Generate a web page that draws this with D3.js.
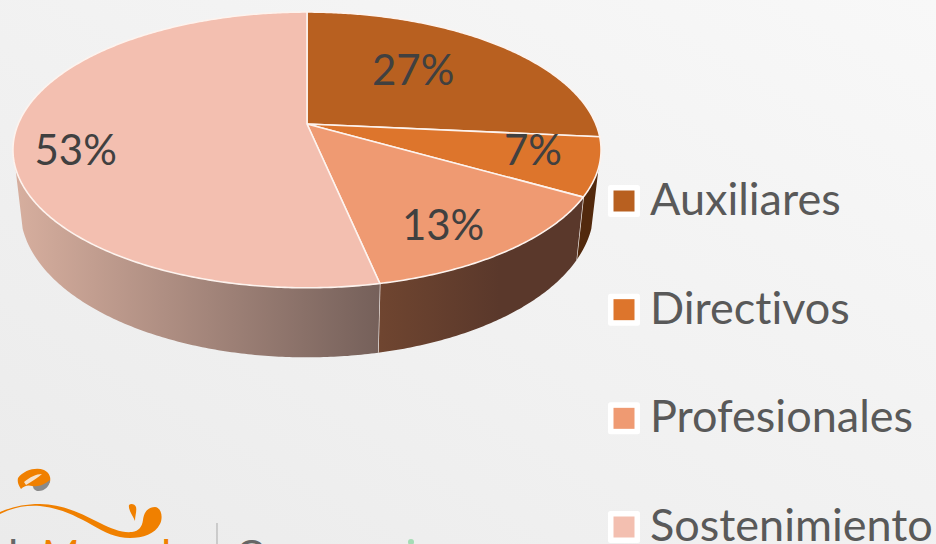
<!DOCTYPE html>
<html>
<head>
<meta charset="utf-8">
<script src="https://cdn.jsdelivr.net/npm/d3@7"></script>
<style>
  html, body { margin: 0; padding: 0; overflow: hidden; }
  svg { display: block; }
  text { font-family: Lato, "Open Sans", sans-serif; font-variant-ligatures: none; }
</style>
</head>
<body>
<div id="chart"></div>
<script>
const categories = ["Auxiliares", "Directivos", "Profesionales", "Sostenimiento"];
const values = [26.5, 6.8, 13.4, 53.3];
const colors = ["#b86020", "#dd752c", "#ef9a72", "#f3bfb0"];

const width = 936,
  height = 544;

// perspective disc: far side shrinks, so the apex sits above the ellipse centre
const persp = 0.188;
const topRim = { cx: 307, cy: 124, a: 288.8, b: 133 };
const lowRim = { cx: 307, cy: 182, a: 281.6, b: 142.4 };
// rim angles where the side wall turns out of sight
const wallStart = (108 * Math.PI) / 180;
const wallEnd = (252 * Math.PI) / 180;

function project(rim, angle, r = 1) {
  const u = r * Math.sin(angle);
  const v = r * Math.cos(angle);
  const w = 1 + persp * v;
  return [rim.cx + (rim.a * u) / w, rim.cy - (rim.b * v) / w];
}

function arcPoints(rim, a0, a1) {
  const n = Math.max(2, Math.ceil(Math.abs(a1 - a0) / 0.01));
  return d3.range(n + 1).map((i) => project(rim, a0 + ((a1 - a0) * i) / n));
}

const line = d3.line();
const pie = d3.pie().sort(null).value((d) => d);
const slices = pie(values);
const fmt = (v) => Math.round(v) + "%";

const svg = d3
  .select("#chart")
  .append("svg")
  .attr("width", width)
  .attr("height", height);
const defs = svg.append("defs");

const bg = defs
  .append("linearGradient")
  .attr("id", "bg")
  .attr("x1", 0)
  .attr("y1", 1)
  .attr("x2", 1)
  .attr("y2", 0);
bg.append("stop").attr("offset", 0).attr("stop-color", "#ebebeb");
bg.append("stop").attr("offset", 1).attr("stop-color", "#f8f8f8");
svg
  .append("rect")
  .attr("width", width)
  .attr("height", height)
  .attr("fill", "url(#bg)");

// side wall shading, left to right per slice
const wallStops = [null, ["#52290d", "#52290d"], ["#6f4530", "#5a382b"], ["#d6ae9e", "#75605a"]];
const wallX = [null, [577, 600], [380, 500], [18, 380]];
wallStops.forEach((stops, i) => {
  if (!stops) return;
  const g = defs
    .append("linearGradient")
    .attr("id", "wall" + i)
    .attr("gradientUnits", "userSpaceOnUse")
    .attr("x1", wallX[i][0])
    .attr("x2", wallX[i][1])
    .attr("y1", 0)
    .attr("y2", 0);
  g.append("stop").attr("offset", 0).attr("stop-color", stops[0]);
  g.append("stop").attr("offset", 1).attr("stop-color", stops[1]);
});

// walls
slices.forEach((s, i) => {
  const a0 = Math.max(s.startAngle, wallStart);
  const a1 = Math.min(s.endAngle, wallEnd);
  if (a1 <= a0) return;
  const pts = arcPoints(topRim, a0, a1).concat(arcPoints(lowRim, a1, a0));
  svg
    .append("path")
    .attr("d", line(pts) + "Z")
    .attr("fill", `url(#wall${i})`)
    .attr("stroke", "none");
  // white seam where two slices meet on the wall
  if (s.endAngle < wallEnd) {
    svg
      .append("line")
      .attr("x1", project(topRim, s.endAngle)[0])
      .attr("y1", project(topRim, s.endAngle)[1])
      .attr("x2", project(lowRim, s.endAngle)[0])
      .attr("y2", project(lowRim, s.endAngle)[1])
      .attr("stroke", "#f4f0ee")
      .attr("stroke-width", 1.3);
  }
});

// top face
svg
  .append("g")
  .selectAll("path")
  .data(slices)
  .join("path")
  .attr(
    "d",
    (d) =>
      line(
        [[topRim.cx, topRim.cy]].concat(
          arcPoints(topRim, d.startAngle, d.endAngle),
        ),
      ) + "Z",
  )
  .attr("fill", (d, i) => colors[i])
  .attr("stroke", "#fdf3ee")
  .attr("stroke-width", 1.6)
  .attr("stroke-linejoin", "round");

// data labels: mid-slice anchor plus a nudge, the way the original best-fit placed them
const labelNudge = [
  [-13, -4],
  [55, 1],
  [24, 30],
  [-57, 18],
];
svg
  .append("g")
  .selectAll("text")
  .data(slices)
  .join("text")
  .attr("x", (d, i) => project(topRim, (d.startAngle + d.endAngle) / 2, 0.6)[0] + labelNudge[i][0])
  .attr("y", (d, i) => project(topRim, (d.startAngle + d.endAngle) / 2, 0.6)[1] + labelNudge[i][1])
  .attr("dy", "0.35em")
  .attr("text-anchor", "middle")
  .attr("font-size", 42)
  .attr("fill", "#404040")
  .text((d) => fmt(d.data));

// legend
const legendY = d3
  .scalePoint()
  .domain(categories)
  .range([201, 527]);
const legend = svg
  .append("g")
  .selectAll("g")
  .data(categories)
  .join("g")
  .attr("transform", (d) => `translate(608,${legendY(d)})`);
legend
  .append("rect")
  .attr("y", -16)
  .attr("width", 32)
  .attr("height", 32)
  .attr("rx", 2.5)
  .attr("fill", "#fff");
legend
  .append("rect")
  .attr("x", 5.5)
  .attr("y", -10.5)
  .attr("width", 21)
  .attr("height", 21)
  .attr("fill", (d, i) => colors[i]);
legend
  .append("text")
  .attr("x", 42)
  .attr("y", 14)
  .attr("font-size", 45)
  .attr("fill", "#595959")
  .text((d) => d);

// logo fragment cut off by the bottom edge
const logo = svg.append("g");
logo
  .append("path")
  .attr("d", "M0,512 C12,507 24,504 40,504 C62,504 80,513 100,523 C112,529 122,533 132,532 C139,531 142,527 143,520 C144,511 149,507 155,507 C162,508 163,518 160,524 C155,534 143,538 130,538 C116,538 104,532 92,525 C76,516 60,508 40,506 C24,505 12,508 0,514 Z")
  .attr("fill", "#f08000");
logo
  .append("path")
  .attr("d", "M129,505 C131,503 135,504 136,507 C137,511 135,516 135,521 C133,516 128,510 129,505 Z")
  .attr("fill", "#f08000");
logo
  .append("path")
  .attr("d", "M18,478 C24,470 36,467 44,470 C50,473 51,478 50,482 C47,488 42,490 36,488 C30,484 25,485 21,489 C19,486 17,482 18,478 Z")
  .attr("fill", "#f08000");
logo
  .append("path")
  .attr("d", "M24,482 C30,477 36,474 42,474 C38,478 32,481 26,485 Z")
  .attr("fill", "#f6e2cc");
logo
  .append("path")
  .attr("d", "M50,480 C50,486 44,492 37,491 C34,490 33,488 33,486 C39,487 45,484 50,480 Z")
  .attr("fill", "#8a8a8a");
logo
  .append("line")
  .attr("x1", 217)
  .attr("x2", 217)
  .attr("y1", 523)
  .attr("y2", 544)
  .attr("stroke", "#b5b5b5")
  .attr("stroke-width", 1.2);
logo
  .append("text")
  .attr("x", 8)
  .attr("y", 572)
  .attr("font-size", 44)
  .attr("fill", "#666")
  .text("l");
logo
  .append("text")
  .attr("x", 40)
  .attr("y", 572)
  .attr("font-size", 44)
  .attr("font-style", "italic")
  .attr("fill", "#f08000")
  .text("M");
logo
  .append("text")
  .attr("x", 161)
  .attr("y", 572)
  .attr("font-size", 44)
  .attr("fill", "#f08000")
  .text("l");
logo
  .append("text")
  .attr("x", 236)
  .attr("y", 568)
  .attr("font-size", 38)
  .attr("fill", "#666")
  .text("G");
logo
  .append("circle")
  .attr("cx", 411)
  .attr("cy", 542)
  .attr("r", 3)
  .attr("fill", "#a5dcb5");
</script>
</body>
</html>
